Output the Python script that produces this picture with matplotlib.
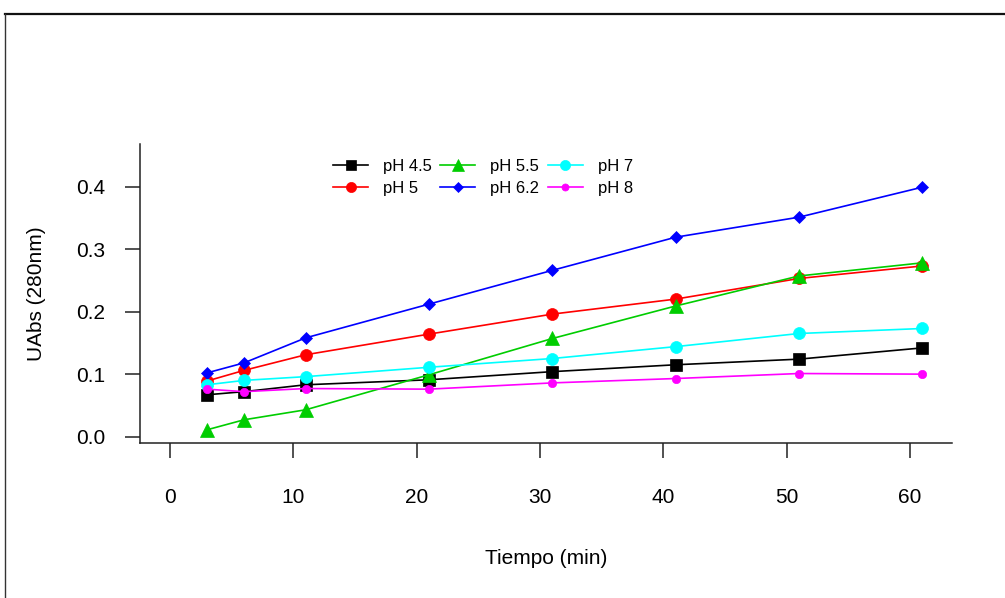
import numpy as np
import matplotlib
matplotlib.use("Agg")
import matplotlib.pyplot as plt
from matplotlib.lines import Line2D

plt.rcParams["font.family"] = ["Liberation Sans", "DejaVu Sans"]

# ── data ──
tiempo = [3, 6, 11, 21, 31, 41, 51, 61]

ph_45 = [0.067, 0.072, 0.083, 0.091, 0.104, 0.115, 0.124, 0.142]
ph_5 = [0.089, 0.106, 0.131, 0.164, 0.196, 0.220, 0.253, 0.273]
ph_55 = [0.011, 0.027, 0.043, 0.099, 0.157, 0.209, 0.257, 0.278]
ph_62 = [0.102, 0.118, 0.158, 0.212, 0.266, 0.319, 0.351, 0.399]
ph_7 = [0.083, 0.090, 0.096, 0.111, 0.125, 0.144, 0.165, 0.173]
ph_8 = [0.076, 0.072, 0.077, 0.076, 0.086, 0.093, 0.101, 0.100]

labels = ["pH 4.5", "pH 5", "pH 5.5", "pH 6.2", "pH 7", "pH 8"]
series = [ph_45, ph_5, ph_55, ph_62, ph_7, ph_8]
colors = ["black", "#FF0000", "#00CD00", "#0000FF", "#00FFFF", "#FF00FF"]
markers = ["s", "o", "^", "D", "o", "o"]
msizes = [8.6, 8.6, 10, 5.8, 8.6, 6]

W, H = 1005, 598
fig = plt.figure(figsize=(W / 100, H / 100), dpi=100)

# outer frame (cut off at right/bottom like the screenshot)
fig.add_artist(Line2D([5 / W, 1.0], [1 - 14 / H, 1 - 14 / H], transform=fig.transFigure,
                      color="#111111", lw=1.6))
fig.add_artist(Line2D([5 / W, 5 / W], [0.0, 1 - 14 / H], transform=fig.transFigure,
                      color="#333333", lw=1.0))

ax = fig.add_axes([140 / W, 1 - 443 / H, (952 - 140) / W, (443 - 144) / H])

for y, lab, c, m, ms in zip(series, labels, colors, markers, msizes):
    ax.plot(tiempo, y, color=c, marker=m, markersize=ms, lw=1.2, label=lab,
            markeredgewidth=0.5, markeredgecolor=c)

ax.set_xlim(-2.43, 63.4)
ax.set_ylim(-0.0101, 0.468)
ax.set_xticks([0, 10, 20, 30, 40, 50, 60])
ax.set_yticks([0.0, 0.1, 0.2, 0.3, 0.4])
ax.set_yticklabels(["0.0", "0.1", "0.2", "0.3", "0.4"])

for s in ["top", "right"]:
    ax.spines[s].set_visible(False)
for s in ["left", "bottom"]:
    ax.spines[s].set_linewidth(1.1)
    ax.spines[s].set_color("#222222")

ax.tick_params(axis="x", direction="out", length=10.8, width=1.1, pad=21.5,
               labelsize=15, color="#222222")
ax.tick_params(axis="y", direction="out", length=10.8, width=1.1, pad=14,
               labelsize=15, color="#222222")

ax.set_xlabel("Tiempo (min)", fontsize=15, labelpad=30.5)
ax.set_ylabel("UAbs (280nm)", fontsize=15, labelpad=22)

ax.legend(loc="upper left", bbox_to_anchor=(333 / W, 1 - 159 / H),
          bbox_transform=fig.transFigure, ncol=3, frameon=False, fontsize=12,
          handlelength=2.1, handletextpad=0.9, columnspacing=0.5,
          labelspacing=0.42, borderpad=0, borderaxespad=0, markerscale=0.85)

fig.savefig("out.png", dpi=100)
